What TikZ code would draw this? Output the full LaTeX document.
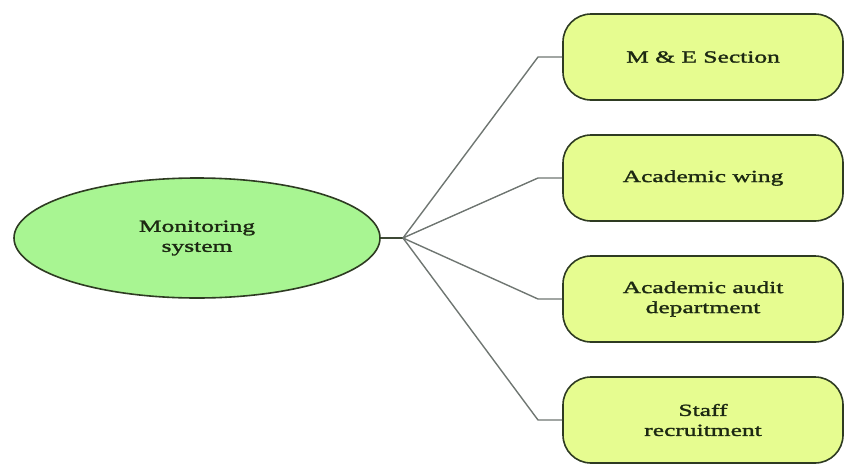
\documentclass[tikz,border=0pt]{standalone}
\usepackage{fontspec}
\setmainfont{Liberation Serif}[FakeStretch=1.5,FakeBold=1.6]
\usetikzlibrary{shapes.geometric}
\definecolor{rootfill}{HTML}{A8F592}
\definecolor{leaffill}{HTML}{E6FC90}
\definecolor{edgeline}{HTML}{2E3B22}
\definecolor{linkgray}{HTML}{6F7672}
\definecolor{labeltext}{HTML}{1C2812}
\begin{document}
\begin{tikzpicture}[x=1pt,y=-1pt,
  labelfont/.style={font=\fontsize{17}{20}\selectfont, text=labeltext, align=center},
  rootnode/.style={ellipse, draw=edgeline, line width=1.6pt, fill=rootfill,
    minimum width=366pt, minimum height=120pt, inner sep=0pt, labelfont},
  leafnode/.style={rectangle, rounded corners=28pt, draw=edgeline, line width=1.6pt,
    fill=leaffill, minimum width=280pt, minimum height=86pt, inner sep=0pt, labelfont},
  link/.style={draw=linkgray, line width=1.4pt},
  stem/.style={draw=edgeline!80!gray, line width=1.8pt}]
  \useasboundingbox (0,0) rectangle (845,463);

  % central ellipse
  \node[rootnode] (root) at (197,238) {Monitoring\\system};

  % branch boxes
  \node[leafnode] (b1) at (703,57)  {M \& E Section};
  \node[leafnode] (b2) at (703,178) {Academic wing};
  \node[leafnode] (b3) at (703,299) {Academic audit\\department};
  \node[leafnode] (b4) at (703,420) {Staff\\recruitment};

  % fan-out point and elbows
  \coordinate (hub) at (403,238);
  \coordinate (k1) at (538,57);
  \coordinate (k2) at (538,178);
  \coordinate (k3) at (538,299);
  \coordinate (k4) at (538,420);

  \draw[stem] (root.east) -- (hub);
  \draw[link] (hub) -- (k1) -- (b1.west);
  \draw[link] (hub) -- (k2) -- (b2.west);
  \draw[link] (hub) -- (k3) -- (b3.west);
  \draw[link] (hub) -- (k4) -- (b4.west);
\end{tikzpicture}
\end{document}
